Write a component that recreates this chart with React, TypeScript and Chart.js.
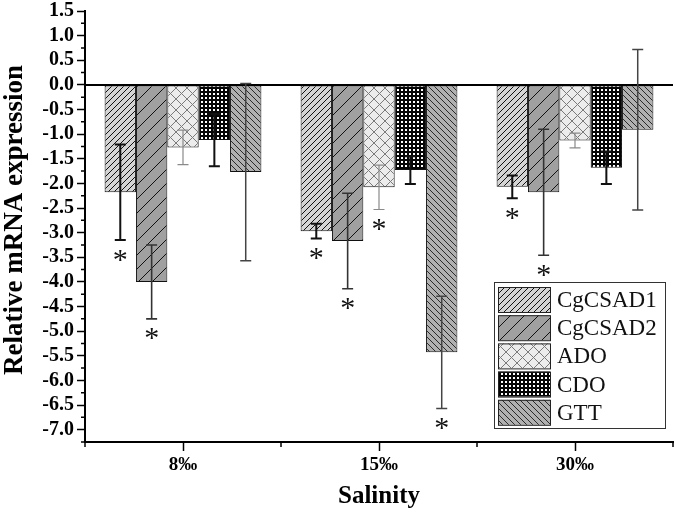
import React, { useEffect, useRef } from 'react';
import { Chart, registerables } from 'chart.js';

Chart.register(...registerables);

const categories = ['8‰', '15‰', '30‰'];
const seriesNames = ['CgCSAD1', 'CgCSAD2', 'ADO', 'CDO', 'GTT'];

const cgcsad1 = [-2.18, -2.97, -2.07];
const cgcsad2 = [-4.0, -3.17, -2.18];
const ado = [-1.27, -2.08, -1.13];
const cdo = [-1.12, -1.73, -1.68];
const gtt = [-1.77, -5.43, -0.91];

const cgcsad1Err = [0.97, 0.15, 0.23];
const cgcsad2Err = [0.75, 0.97, 1.28];
const adoErr = [0.35, 0.45, 0.15];
const cdoErr = [0.53, 0.28, 0.33];
const gttErr = [1.8, 1.14, 1.63];

const cgcsad1Sig = [true, true, true];
const cgcsad2Sig = [true, true, true];
const adoSig = [false, true, false];
const cdoSig = [false, false, false];
const gttSig = [false, true, false];

const yMin = -7.25;
const yMax = 1.5;
const yStep = 0.5;
const yFirstTick = -7.0;

const FONT = "'Liberation Serif', 'Times New Roman', serif";

function diagPattern(size: number, bg: string, fg: string, lw: number, dir: string) {
  const c = document.createElement('canvas');
  c.width = size;
  c.height = size;
  const g = c.getContext('2d')!;
  g.fillStyle = bg;
  g.fillRect(0, 0, size, size);
  g.strokeStyle = fg;
  g.lineWidth = lw;
  g.beginPath();
  for (const o of [-size, 0, size]) {
    if (dir === '/' || dir === 'x') {
      g.moveTo(o - 1, size + 1);
      g.lineTo(o + size + 1, -1);
    }
    if (dir === '\\' || dir === 'x') {
      g.moveTo(o - 1, -1);
      g.lineTo(o + size + 1, size + 1);
    }
  }
  g.stroke();
  return g.createPattern(c, 'repeat')!;
}

function dotPattern(size: number, bg: string, fg: string, dot: number) {
  const c = document.createElement('canvas');
  c.width = size;
  c.height = size;
  const g = c.getContext('2d')!;
  g.fillStyle = bg;
  g.fillRect(0, 0, size, size);
  g.fillStyle = fg;
  g.fillRect(1, 1, dot, dot);
  return g.createPattern(c, 'repeat')!;
}

export default function App() {
  const ref = useRef<HTMLCanvasElement | null>(null);

  useEffect(() => {
    if (!ref.current) return;
    const patterns = [
      diagPattern(6, '#d4d4d4', '#111111', 1, '/'),
      diagPattern(14, '#a0a0a0', '#111111', 1, '/'),
      diagPattern(11, '#ececec', '#7a7a7a', 1, 'x'),
      dotPattern(4, '#050505', '#ffffff', 2),
      diagPattern(6, '#b0b0b0', '#2a2a2a', 1, '\\'),
    ];
    const values = [cgcsad1, cgcsad2, ado, cdo, gtt];
    const errors = [cgcsad1Err, cgcsad2Err, adoErr, cdoErr, gttErr];
    const sigs = [cgcsad1Sig, cgcsad2Sig, adoSig, cdoSig, gttSig];
    const errColors = ['#111111', '#333333', '#8a8a8a', '#111111', '#444444'];
    const errWidths = [2, 1.6, 1.2, 2, 1.5];

    const overlay = {
      id: 'overlay',
      afterDatasetsDraw(chart: any) {
        const ctx = chart.ctx;
        const ys = chart.scales.y;
        const area = chart.chartArea;
        ctx.save();
        const y0 = ys.getPixelForValue(0);
        ctx.strokeStyle = '#000';
        ctx.lineWidth = 2;
        ctx.beginPath();
        ctx.moveTo(area.left, y0);
        ctx.lineTo(area.right, y0);
        ctx.stroke();
        ctx.font = `30px ${FONT}`;
        const m = ctx.measureText('*');
        const starShift = (m.actualBoundingBoxAscent - m.actualBoundingBoxDescent) / 2;
        values.forEach((vals, i) => {
          const meta = chart.getDatasetMeta(i);
          meta.data.forEach((el: any, j: number) => {
            const v = vals[j];
            const e = errors[i][j];
            const yt = ys.getPixelForValue(v + e);
            const yb = ys.getPixelForValue(v - e);
            const x = el.x;
            ctx.strokeStyle = errColors[i];
            ctx.lineWidth = errWidths[i];
            ctx.beginPath();
            ctx.moveTo(x, yt);
            ctx.lineTo(x, yb);
            ctx.moveTo(x - 5.5, yt);
            ctx.lineTo(x + 5.5, yt);
            ctx.moveTo(x - 5.5, yb);
            ctx.lineTo(x + 5.5, yb);
            ctx.stroke();
            if (sigs[i][j]) {
              ctx.fillStyle = '#111';
              ctx.font = `30px ${FONT}`;
              ctx.textAlign = 'center';
              ctx.textBaseline = 'alphabetic';
              ctx.fillText('*', x, yb + 15 + starShift);
            }
          });
        });
        ctx.restore();
      },
      afterDraw(chart: any) {
        const ctx = chart.ctx;
        const ys = chart.scales.y;
        const area = chart.chartArea;
        ctx.save();
        ctx.strokeStyle = '#000';
        ctx.lineWidth = 1.5;
        ctx.beginPath();
        for (let v = yMin; v < yMax; v += yStep / 2) {
          const r = Math.round(v * 4);
          if (r % 2 !== 0) {
            const py = ys.getPixelForValue(v);
            ctx.moveTo(area.left, py);
            ctx.lineTo(area.left - 4, py);
          }
        }
        const n = categories.length;
        const w = (area.right - area.left) / n;
        for (let k = 0; k <= n; k++) {
          const px = area.left + k * w;
          ctx.moveTo(px, area.bottom);
          ctx.lineTo(px, area.bottom + 5);
        }
        ctx.stroke();

        // titles
        ctx.fillStyle = '#000';
        ctx.font = `bold 27px ${FONT}`;
        ctx.textAlign = 'center';
        ctx.textBaseline = 'alphabetic';
        ctx.save();
        ctx.translate(22, 220);
        ctx.rotate(-Math.PI / 2);
        ctx.fillText('Relative mRNA expression', 0, 0);
        ctx.restore();
        ctx.font = `bold 25px ${FONT}`;
        ctx.textBaseline = 'middle';
        ctx.fillText('Salinity', (area.left + area.right) / 2, 497);

        // legend
        const lx = 494, ly = 282, lw = 171, lh = 146;
        ctx.fillStyle = '#fff';
        ctx.fillRect(lx, ly, lw, lh);
        ctx.strokeStyle = '#333';
        ctx.lineWidth = 1;
        ctx.strokeRect(lx + 0.5, ly + 0.5, lw, lh);
        seriesNames.forEach((name, i) => {
          const ry = 287 + i * 28.2;
          ctx.fillStyle = patterns[i];
          ctx.fillRect(498, ry, 52, 25);
          ctx.strokeStyle = '#222';
          ctx.strokeRect(498.5, ry + 0.5, 52, 25);
          ctx.fillStyle = '#111';
          ctx.font = `23px ${FONT}`;
          ctx.textAlign = 'left';
          ctx.textBaseline = 'middle';
          ctx.fillText(name, 557, ry + 14);
        });
        ctx.restore();
      },
    };

    const chart = new Chart(ref.current, {
      type: 'bar',
      data: {
        labels: categories,
        datasets: values.map((vals, i) => ({
          label: seriesNames[i],
          data: vals,
          backgroundColor: patterns[i],
          borderColor: '#111',
          borderWidth: 1,
          borderSkipped: false,
          categoryPercentage: 0.8,
          barPercentage: 1.0,
        })),
      },
      options: {
        animation: false,
        responsive: false,
        maintainAspectRatio: false,
        layout: { padding: { top: 10, right: 2, left: 0, bottom: 0 } },
        plugins: {
          legend: { display: false },
          tooltip: { enabled: false },
          title: { display: false },
        },
        scales: {
          x: {
            offset: true,
            grid: {
              display: true,
              drawOnChartArea: false,
              drawTicks: true,
              tickLength: 9,
              tickWidth: 1.5,
              tickColor: '#000',
              offset: false,
            },
            border: { display: true, color: '#000', width: 2 },
            ticks: {
              color: '#000',
              font: { family: FONT, size: 19, weight: 'bold' },
              padding: 3,
              maxRotation: 0,
            },
            afterFit(scale: any) {
              scale.height = 73;
            },
          },
          y: {
            min: yMin,
            max: yMax,
            grid: {
              display: true,
              drawOnChartArea: false,
              drawTicks: true,
              tickLength: 8,
              tickWidth: 1.5,
              tickColor: '#000',
            },
            border: { display: true, color: '#000', width: 2 },
            ticks: {
              stepSize: yStep,
              autoSkip: false,
              color: '#000',
              font: { family: FONT, size: 20, weight: 'bold', lineHeight: 0.8 },
              padding: 3,
              callback: (v: any) => Number(v).toFixed(1),
            },
            afterBuildTicks(scale: any) {
              const list: { value: number }[] = [];
              const count = Math.round((yMax - yFirstTick) / yStep);
              for (let k = 0; k <= count; k++) {
                list.push({ value: +(yFirstTick + k * yStep).toFixed(2) });
              }
              scale.ticks = list;
            },
            afterFit(scale: any) {
              scale.width = 85;
            },
          },
        },
      },
      plugins: [overlay],
    });
    return () => chart.destroy();
  }, []);

  return (
    <div style={{ position: 'fixed', left: 0, top: 0, width: 675, height: 515, background: '#fff' }}>
      <canvas ref={ref} width={675} height={515} style={{ width: 675, height: 515 }} />
    </div>
  );
}
